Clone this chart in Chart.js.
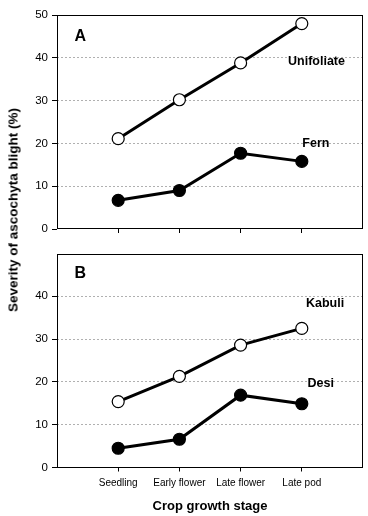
<!DOCTYPE html>
<html>
<head>
<meta charset="utf-8">
<script src="https://cdn.jsdelivr.net/npm/chart.js@4.4.0/dist/chart.umd.min.js"></script>
<style>
  body { margin: 0; background: #fff; }
  #wrap { position: relative; width: 368px; height: 516px; font-family: "Liberation Sans", Arial, sans-serif; }
  .panel { position: absolute; left: 0; width: 368px; }
  #yTitle {
    position: absolute; left: 12.5px; top: 210px; white-space: nowrap;
    font-weight: bold; font-size: 13.5px; color: #000;
    transform: translate(-50%, -50%) rotate(-90deg);
  }
</style>
</head>
<body>
<div id="wrap">
  <div class="panel" style="top:0;height:240px"><canvas id="chartA"></canvas></div>
  <div class="panel" style="top:240px;height:276px"><canvas id="chartB"></canvas></div>
  <div id="yTitle">Severity of ascochyta blight (%)</div>
</div>
<script>
// growth stages (x categories)
const stages = ['Seedling', 'Early flower', 'Late flower', 'Late pod'];

// panel A: leaf type
const unifoliate = [21.1, 30.2, 38.8, 48.0];
const fern = [6.7, 9.0, 17.7, 15.8];

// panel B: chickpea type
const kabuli = [15.4, 21.3, 28.6, 32.5];
const desi = [4.5, 6.6, 16.9, 14.9];

const yTicks = [0, 10, 20, 30, 40, 50];

const toPoints = vals => vals.map((v, i) => ({ x: i + 1, y: v }));

// box round the plot area
const frame = {
  id: 'frame',
  afterDraw(chart) {
    const { ctx, chartArea: a } = chart;
    ctx.save();
    ctx.strokeStyle = '#000';
    ctx.lineWidth = 1;
    ctx.strokeRect(Math.round(a.left) + 0.5, Math.round(a.top) + 0.5,
      Math.round(a.right - a.left) - 1, Math.round(a.bottom - a.top) - 1);
    ctx.restore();
  }
};

// panel letters and series names, placed in data units
const notes = {
  id: 'notes',
  afterDatasetsDraw(chart, args, opts) {
    const { ctx, scales: { x, y } } = chart;
    ctx.save();
    ctx.fillStyle = '#000';
    ctx.textAlign = 'center';
    ctx.textBaseline = 'middle';
    opts.items.forEach(n => {
      ctx.font = 'bold ' + n.size + 'px "Liberation Sans", Arial, sans-serif';
      ctx.fillText(n.text, x.getPixelForValue(n.x), y.getPixelForValue(n.y));
    });
    ctx.restore();
  }
};

function series(vals, fill) {
  return {
    data: toPoints(vals),
    borderColor: '#000',
    borderWidth: 3,
    pointRadius: 6,
    pointHoverRadius: 6,
    pointBorderWidth: 1.2,
    pointBorderColor: '#000',
    pointBackgroundColor: fill,
    tension: 0
  };
}

function makeChart(id, open, closed, opt) {
  return new Chart(document.getElementById(id), {
    type: 'line',
    data: { datasets: [series(open, '#fff'), series(closed, '#000')] },
    options: {
      responsive: true,
      maintainAspectRatio: false,
      animation: false,
      events: [],
      layout: { autoPadding: false, padding: { top: opt.top, right: 5, left: 0, bottom: 0 } },
      plugins: {
        legend: { display: false },
        tooltip: { enabled: false },
        notes: { items: opt.notes }
      },
      scales: {
        x: {
          type: 'linear',
          min: 0,
          max: 5,
          afterBuildTicks: s => { s.ticks = stages.map((st, i) => ({ value: i + 1 })); },
          afterFit: s => { s.height = opt.xHeight; },
          border: { display: false },
          grid: { drawOnChartArea: false, drawTicks: true, tickLength: 4, tickColor: '#000', tickWidth: 1 },
          ticks: {
            display: opt.showLabels,
            padding: 6,
            maxRotation: 0,
            autoSkip: false,
            color: '#000',
            font: { family: '"Liberation Sans", Arial, sans-serif', size: 10 },
            callback: v => stages[v - 1]
          },
          title: {
            display: opt.showLabels,
            text: 'Crop growth stage',
            color: '#000',
            padding: { top: 0, bottom: 2 },
            font: { family: '"Liberation Sans", Arial, sans-serif', size: 13, weight: 'bold' }
          }
        },
        y: {
          min: 0,
          max: 50,
          afterBuildTicks: s => { s.ticks = yTicks.filter(v => v <= opt.yTop).map(v => ({ value: v })); },
          afterFit: s => { s.width = 57; },
          border: { display: false, dash: [2, 2] },
          grid: {
            color: c => (c.tick.value === 0 || c.tick.value === 50) ? 'rgba(0,0,0,0)' : '#b0b0b0',
            lineWidth: 1,
            tickLength: 5,
            tickColor: '#000',
            tickWidth: 1
          },
          ticks: {
            padding: 4,
            color: '#000',
            font: { family: '"Liberation Sans", Arial, sans-serif', size: 11.5 }
          }
        }
      }
    },
    plugins: [frame, notes]
  });
}

makeChart('chartA', unifoliate, fern, {
  top: 15, xHeight: 11, showLabels: false, yTop: 50,
  notes: [
    { text: 'A', x: 0.38, y: 44.9, size: 16 },
    { text: 'Unifoliate', x: 4.24, y: 39.1, size: 12.5 },
    { text: 'Fern', x: 4.23, y: 20.0, size: 12.5 }
  ]
});

makeChart('chartB', kabuli, desi, {
  top: 13.5, xHeight: 48.5, showLabels: true, yTop: 40,
  notes: [
    { text: 'B', x: 0.38, y: 45.4, size: 16 },
    { text: 'Kabuli', x: 4.38, y: 38.4, size: 12.5 },
    { text: 'Desi', x: 4.31, y: 19.5, size: 12.5 }
  ]
});
</script>
</body>
</html>
